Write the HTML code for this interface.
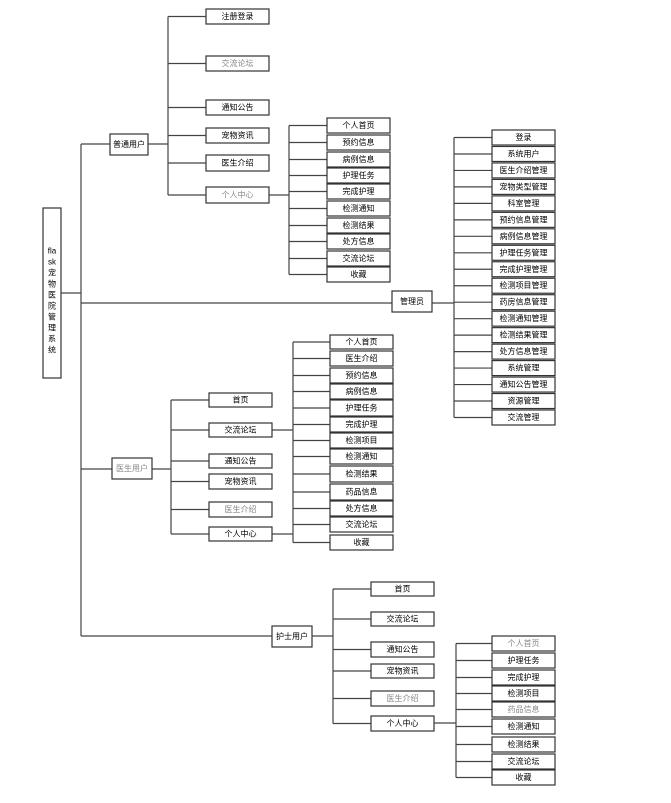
<!DOCTYPE html>
<html><head><meta charset="utf-8"><style>
html,body{margin:0;padding:0;background:#fff;width:671px;height:803px;overflow:hidden}
svg text{font-family:"Liberation Sans","Noto Sans CJK SC",sans-serif;font-size:8px;text-anchor:middle;dominant-baseline:central;fill:#000}
</style></head><body>
<svg id="s" width="671" height="803" xmlns="http://www.w3.org/2000/svg">
<rect x="43" y="208" width="18" height="170" fill="#fff" stroke="#333" stroke-width="1.2"/>
<text x="52" y="251">fla</text><text x="52" y="262">sk</text>
<text x="52" y="273">宠</text><text x="52" y="284">物</text><text x="52" y="295">医</text><text x="52" y="306">院</text><text x="52" y="317">管</text><text x="52" y="328">理</text><text x="52" y="339">系</text><text x="52" y="350">统</text>
</svg>
<script>
var s=document.getElementById('s'),NS='http://www.w3.org/2000/svg';
function L(x1,y1,x2,y2){var e=document.createElementNS(NS,'line');e.setAttribute('x1',x1);e.setAttribute('y1',y1);e.setAttribute('x2',x2);e.setAttribute('y2',y2);e.setAttribute('stroke','#444');e.setAttribute('stroke-width','1.2');s.insertBefore(e,s.firstChild);}
function B(x,y,w,h,t,g){var r=document.createElementNS(NS,'rect');r.setAttribute('x',x);r.setAttribute('y',y);r.setAttribute('width',w);r.setAttribute('height',h);r.setAttribute('fill','#fff');r.setAttribute('stroke','#333');r.setAttribute('stroke-width','1.2');s.appendChild(r);var e=document.createElementNS(NS,'text');e.setAttribute('x',x+w/2);e.setAttribute('y',y+h/2);if(g)e.setAttribute('style','fill:#888');e.textContent=t;s.appendChild(e);}
// group: spine x, boxes x,w, list [label,y1,y2,gray]
function G(sx,bx,bw,items){var ys=items.map(function(i){return (i[1]+i[2])/2});L(sx,Math.min.apply(0,ys),sx,Math.max.apply(0,ys));items.forEach(function(i,k){L(sx,ys[k],bx,ys[k]);B(bx,i[1],bw,i[2]-i[1],i[0],i[3]);});}
// trunk
L(61,293,81,293);L(81,144,81,636);
L(81,144,110,144);B(110,134,38,21,'普通用户');
L(148,144,168,144);
G(168,206,63,[['注册登录',9,24],['交流论坛',56,71,1],['通知公告',100,115],['宠物资讯',128,143],['医生介绍',155,171],['个人中心',187,203,1]]);
L(269,195,289,195);
var a=['个人首页','预约信息','病例信息','护理任务','完成护理','检测通知','检测结果','处方信息','交流论坛','收藏'],ay=[118,135,152,168,184,201,218,234,251,267];
G(289,327,63,a.map(function(t,k){return [t,ay[k],ay[k]+15]}));
// admin
L(81,303,392,303);B(392,291,40,21,'管理员');L(432,303,454,303);
var m=['登录','系统用户','医生介绍管理','宠物类型管理','科室管理','预约信息管理','病例信息管理','护理任务管理','完成护理管理','检测项目管理','药房信息管理','检测通知管理','检测结果管理','处方信息管理','系统管理','通知公告管理','资源管理','交流管理'];
G(454,492,63,m.map(function(t,k){var y=130+k*16.47;return [t,y,y+15]}));
// doctor
L(81,469,112,469);B(112,458,40,21,'医生用户',1);L(152,469,171,469);
G(171,209,63,[['首页',393,407],['交流论坛',423,437],['通知公告',454,468],['宠物资讯',474,489],['医生介绍',502,517,1],['个人中心',527,541]]);
L(272,430,293,430);L(272,534,293,534);
var d=['个人首页','医生介绍','预约信息','病例信息','护理任务','完成护理','检测项目','检测通知','检测结果','药品信息','处方信息','交流论坛','收藏'],dy=[[335,349],[351,366],[368,383],[384,399],[400,416],[417,432],[433,448],[449,464],[466,482],[484,500],[501,516],[517,532],[535,550]];
G(293,330,63,d.map(function(t,k){return [t,dy[k][0],dy[k][1]]}));
// nurse
L(81,636,272,636);B(272,626,40,21,'护士用户');L(312,636,333,636);
G(333,371,63,[['首页',582,596],['交流论坛',612,626],['通知公告',642,657],['宠物资讯',664,678],['医生介绍',691,706,1],['个人中心',716,731]]);
L(434,723,456,723);
var n=['个人首页','护理任务','完成护理','检测项目','药品信息','检测通知','检测结果','交流论坛','收藏'],ny=[[636,651],[653,668],[670,685],[686,701],[702,717],[719,734],[737,752],[754,769],[770,785]];
G(456,492,63,n.map(function(t,k){return [t,ny[k][0],ny[k][1],(k==0||k==4)?1:0]}));
</script>
</body></html>
